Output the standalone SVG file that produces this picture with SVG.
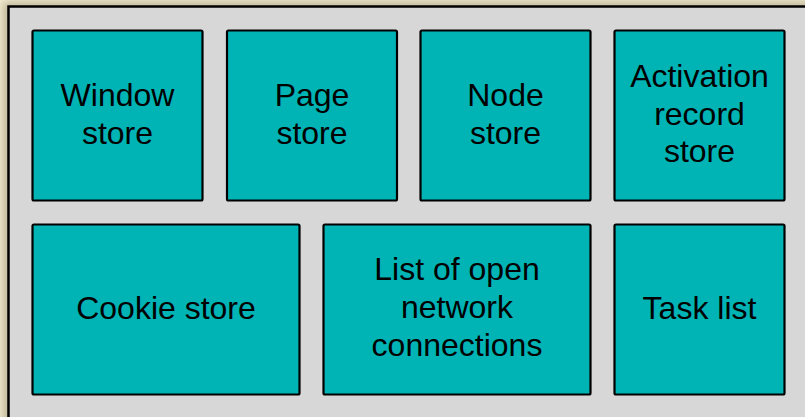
<svg xmlns="http://www.w3.org/2000/svg" width="805" height="417" viewBox="0 0 805 417">
<defs>
<filter id="sh" x="-5%" y="-5%" width="110%" height="110%">
<feGaussianBlur stdDeviation="4"/>
</filter>
<style>
.box{fill:#00b3b5;stroke:#000;stroke-width:2.2;}
.t{font-family:"Liberation Sans",Arial,Helvetica,sans-serif;font-size:32px;fill:#000;text-anchor:middle;}
</style>
</defs>
<rect x="0" y="0" width="805" height="417" fill="#f3ecd2"/>
<rect x="3" y="2" width="830" height="440" fill="#9c9270" opacity="0.6" filter="url(#sh)"/>
<rect id="frame" x="8.5" y="6.5" width="820" height="430" fill="#d7d7d7" stroke="#000" stroke-width="2.5"/>
<g id="connectors"></g>
<g id="window-store">
<rect class="box" x="32.5" y="30.5" width="170" height="170" rx="1.5"/>
<text class="t" x="117.5" y="105.5">Window</text>
<text class="t" x="117.5" y="143.5">store</text>
</g>
<g id="page-store">
<rect class="box" x="227" y="30.5" width="170" height="170" rx="1.5"/>
<text class="t" x="312" y="105.5">Page</text>
<text class="t" x="312" y="143.5">store</text>
</g>
<g id="node-store">
<rect class="box" x="420.5" y="30.5" width="170" height="170" rx="1.5"/>
<text class="t" x="505.5" y="105.5">Node</text>
<text class="t" x="505.5" y="143.5">store</text>
</g>
<g id="activation-record-store">
<rect class="box" x="614.5" y="30.5" width="170" height="170" rx="1.5"/>
<text class="t" x="699.5" y="87">Activation</text>
<text class="t" x="699.5" y="124.5">record</text>
<text class="t" x="699.5" y="162">store</text>
</g>
<g id="cookie-store">
<rect class="box" x="32.5" y="224.5" width="267" height="170" rx="1.5"/>
<text class="t" x="166" y="319">Cookie store</text>
</g>
<g id="network-connections">
<rect class="box" x="323.5" y="224.5" width="267" height="170" rx="1.5"/>
<text class="t" x="457" y="280">List of open</text>
<text class="t" x="457" y="318">network</text>
<text class="t" x="457" y="356">connections</text>
</g>
<g id="task-list">
<rect class="box" x="614.5" y="224.5" width="170" height="170" rx="1.5"/>
<text class="t" x="699.5" y="319">Task list</text>
</g>
</svg>
